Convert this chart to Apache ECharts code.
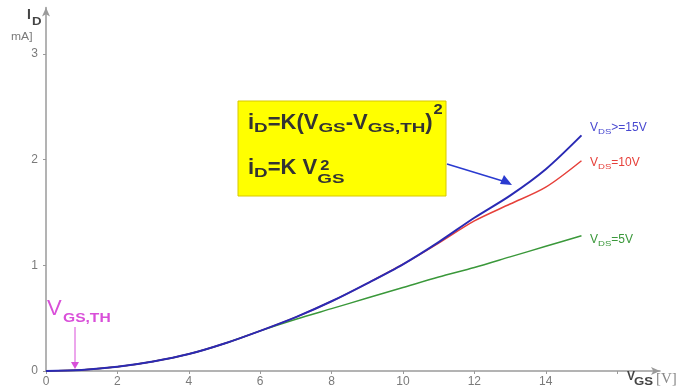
<!DOCTYPE html>
<html>
<head>
<meta charset="utf-8">
<script src="https://cdn.jsdelivr.net/npm/echarts@6/dist/echarts.min.js"></script>
<style>
html,body{margin:0;padding:0;background:#fff;}
#chart{width:677px;height:391px;}
</style>
</head>
<body>
<div id="chart"></div>
<script>
// ---- data ----
var vgs = [0,1,2,3,4,5,6,7,8,9,10,11,12,13,14,15];
var idVds15 = [0,0.01,0.04,0.09,0.16,0.26,0.38,0.51,0.66,0.83,1.01,1.22,1.45,1.66,1.91,2.23];
var idVds10 = [0,0.01,0.04,0.09,0.16,0.26,0.38,0.51,0.66,0.83,1.01,1.21,1.42,1.58,1.74,1.99];
var idVds5  = [0,0.01,0.04,0.09,0.16,0.26,0.38,0.49,0.59,0.69,0.79,0.89,0.98,1.08,1.18,1.28];
var xTickLabels = [0,2,4,6,8,10,12,14];
var xTicks = [0,2,4,6,8,10,12,14,16];
var yTickLabels = [0,1,2,3];

function pairs(xs, ys){ return xs.map(function(x,i){ return [x, ys[i]]; }); }

var chart = echarts.init(document.getElementById('chart'), null, {renderer:'canvas'});
var FONT = '"Liberation Sans", Arial, sans-serif';
var axisCol = '#9a9a9a';
var lblCol = '#7a7a7a';
var BLUE = '#2a2ab4', RED = '#e6403a', GREEN = '#3a983a', MAG = '#d94fd9';

var ctx = document.createElement('canvas').getContext('2d');
function measure(text, size, bold){
  ctx.font = (bold ? 'bold ' : '') + size + 'px ' + FONT;
  return ctx.measureText(text).width;
}
function t(x, y, text, size, color, bold, sx){
  sx = sx || 1;
  return {type:'text', x:x, y:y, z:100, scaleX:sx, originX:0, originY:0,
    style:{text:text, fontSize:size, fill:color, fontFamily:FONT,
      fontWeight: bold ? 'bold' : 'normal', verticalAlign:'middle', align:'left'}};
}
// sequential layout: pieces [text, size, dy, scaleX]
function run(x0, yMid, pieces, color, bold, out){
  var x = x0;
  pieces.forEach(function(p){
    var sx = p[3] || 1;
    out.push(t(x, yMid + p[2], p[0], p[1], color, bold, sx));
    x += measure(p[0], p[1], bold) * sx;
  });
  return x;
}

var graphics = [
  {type:'rect', shape:{x:238, y:101, width:208, height:95}, z:50,
   style:{fill:'#ffff00', stroke:'#d8c800', lineWidth:1}}
];
var M = 22, S = 13, SX = 1.45, TX = '#333';
var endX = run(248, 123, [
  ['i', M, 0], ['D', S, 5, SX], ['=K(V', M, 0], ['GS', S, 5, SX], ['-V', M, 0],
  ['GS,TH', S, 5, SX], [')', M, 0]
], TX, true, graphics);
graphics.push(t(endX + 1, 110, '2', 15, TX, true, 1.1));
var x2 = run(248, 168, [
  ['i', M, 0], ['D', S, 5, SX], ['=K ', M, 0], ['V', M, 0]
], TX, true, graphics);
graphics.push(t(x2, 179, 'GS', S, TX, true, SX));
graphics.push(t(x2 + 3, 166, '2', 15, TX, true, 1.1));

graphics = graphics.concat([
  // blue arrow to curve
  {type:'line', z:60, shape:{x1:447, y1:164, x2:506, y2:182}, style:{stroke:'#2a3ad0', lineWidth:1.5}},
  {type:'polygon', z:60, shape:{points:[[512,185],[500,184],[504,175]]}, style:{fill:'#2a3ad0'}}
]);
// right labels
run(590, 128, [['V',12,0],['DS',8,4,1.2],['>=15V',12,0]], '#4848d0', false, graphics);
run(590, 163, [['V',12,0],['DS',8,4,1.2],['=10V',12,0]], RED, false, graphics);
run(590, 240, [['V',12,0],['DS',8,4,1.2],['=5V',12,0]], GREEN, false, graphics);
// VGS,TH label
graphics.push(t(47, 309, 'V', 22, MAG, false));
graphics.push(t(63, 319, 'GS,TH', 12, MAG, true, 1.3));
graphics.push({type:'line', z:60, shape:{x1:75, y1:327, x2:75, y2:364}, style:{stroke:MAG, lineWidth:1}});
graphics.push({type:'polygon', z:60, shape:{points:[[75,369],[71,362],[79,362]]}, style:{fill:MAG}});
// y axis title
graphics.push(t(27, 15, 'I', 14, '#444', true));
graphics.push(t(32, 22, 'D', 11, '#444', true, 1.2));
graphics.push(t(11, 37, 'mA]', 11, lblCol, false, 1.1));
// x axis title
graphics.push(t(627, 377, 'V', 12, '#444', true));
graphics.push(t(634, 382, 'GS', 11, '#444', true, 1.2));
graphics.push({type:'text', x:656, y:379, z:100, style:{text:'[V]', fontSize:15,
  fill:'#888', fontFamily:'"Liberation Serif", serif', verticalAlign:'middle', align:'left'}});

var option = {
  animation:false,
  backgroundColor:'#fff',
  grid:{left:46, right:17, top:7.5, bottom:20, containLabel:false},
  xAxis:{
    type:'value', min:0, max:17.2, interval:2,
    axisLine:{show:true, lineStyle:{color:axisCol, width:1.5}, symbol:['none','arrow'], symbolSize:[6,9], onZero:true},
    axisTick:{show:true, length:3, lineStyle:{color:axisCol}, customValues: xTicks},
    axisLabel:{color:lblCol, fontSize:12, fontFamily:FONT, margin:5, customValues: xTickLabels},
    splitLine:{show:false}
  },
  yAxis:{
    type:'value', min:0, max:3.44, interval:1,
    axisLine:{show:true, lineStyle:{color:axisCol, width:1.5}, symbol:['none','arrow'], symbolSize:[6,9]},
    axisTick:{show:true, length:3, lineStyle:{color:axisCol}, customValues: yTickLabels},
    axisLabel:{color:lblCol, fontSize:12, fontFamily:FONT, margin:8, customValues: yTickLabels},
    splitLine:{show:false}
  },
  series:[
    {type:'line', name:'VDS=5V', data:pairs(vgs, idVds5), smooth:0.3, symbol:'none', z:2,
     lineStyle:{color:GREEN, width:1.5}},
    {type:'line', name:'VDS=10V', data:pairs(vgs, idVds10), smooth:0.3, symbol:'none', z:3,
     lineStyle:{color:RED, width:1.5}},
    {type:'line', name:'VDS>=15V', data:pairs(vgs, idVds15), smooth:0.3, symbol:'none', z:4,
     lineStyle:{color:BLUE, width:2}}
  ],
  graphic: graphics
};
chart.setOption(option);
</script>
</body>
</html>
